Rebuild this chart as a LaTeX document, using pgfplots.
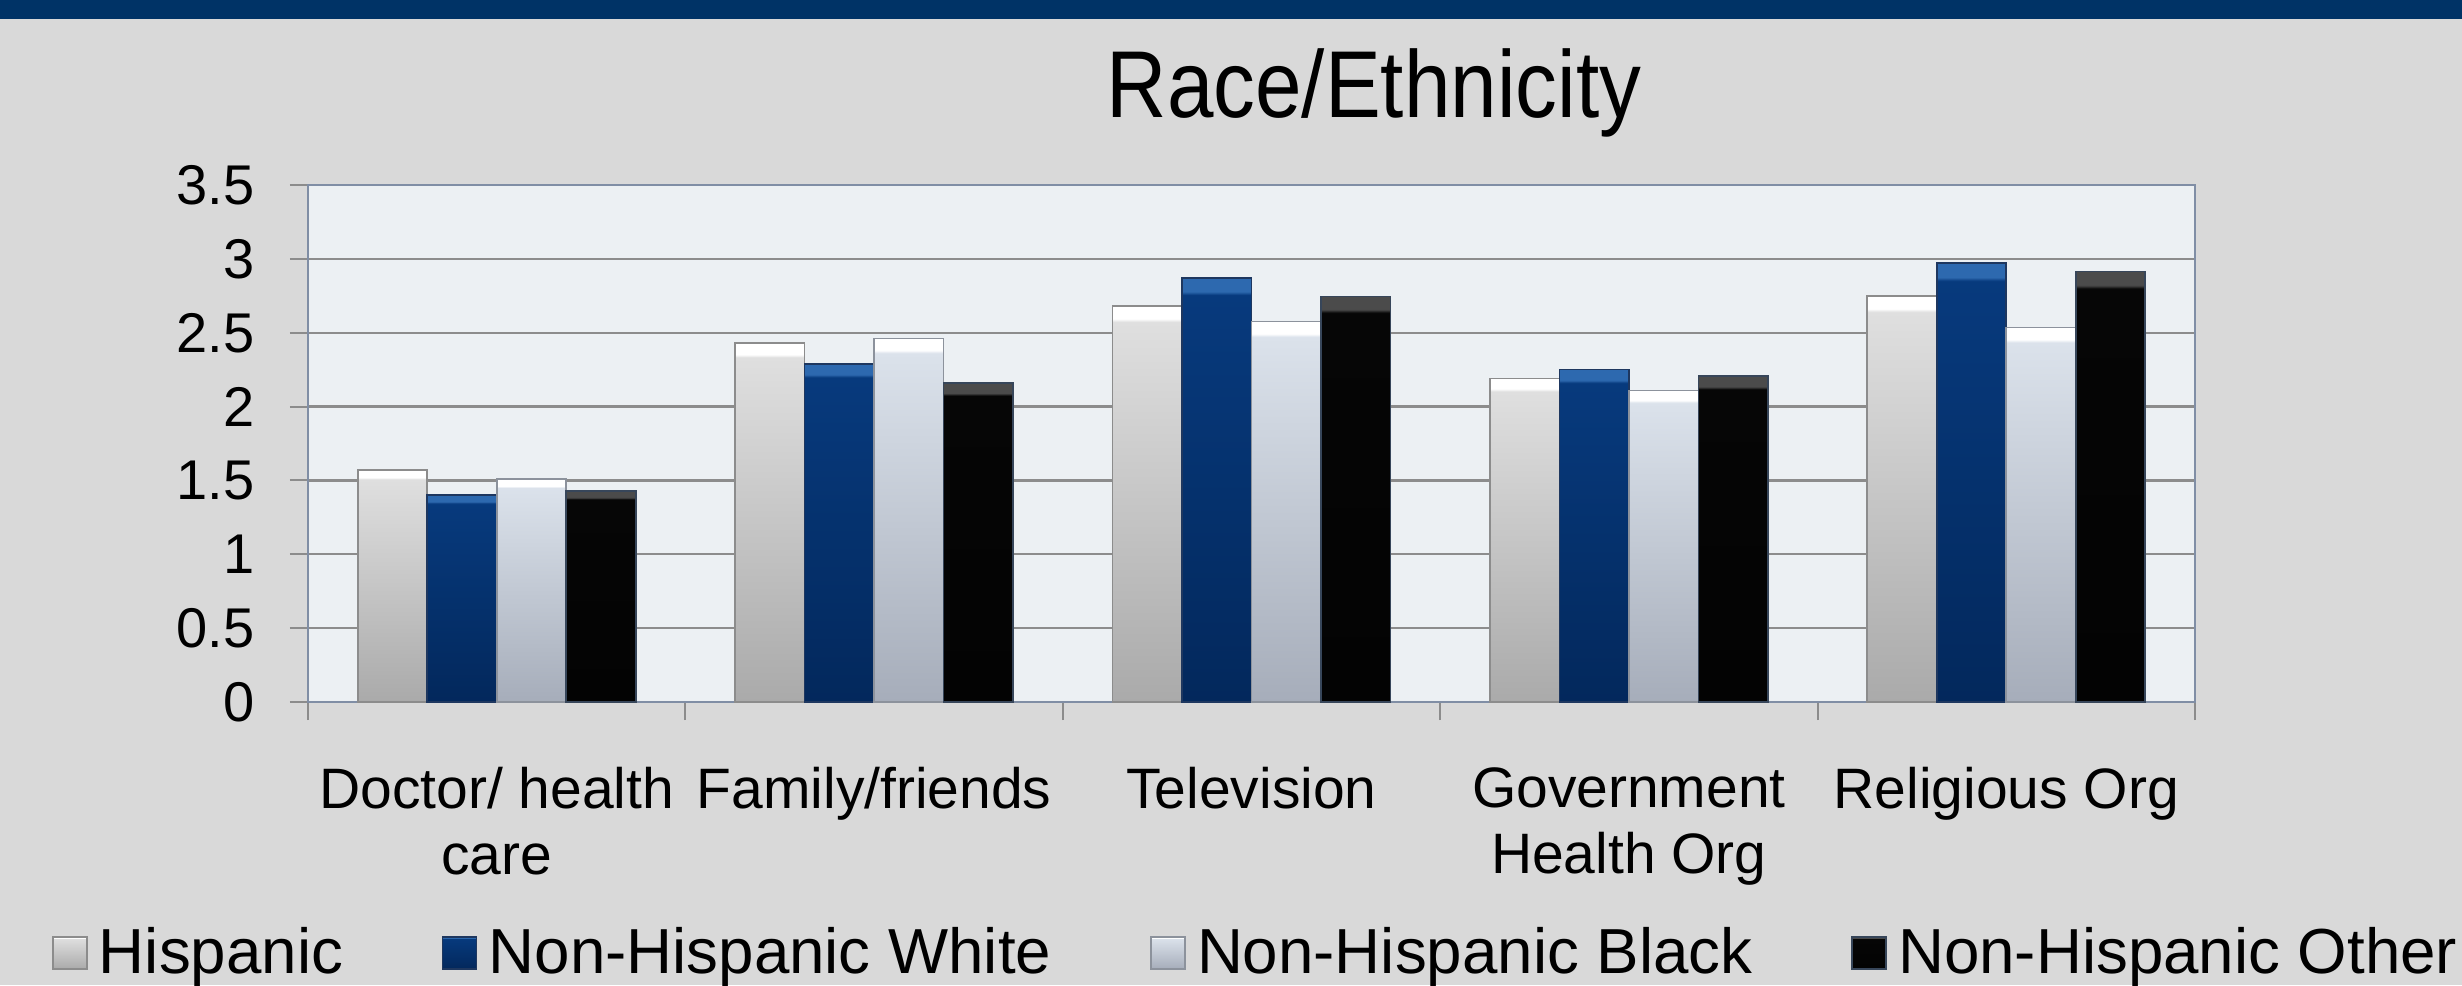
\documentclass[border=0pt]{standalone}
\usepackage{pgfplots}
\pgfplotsset{compat=1.18}
\usepackage{fontspec}
\setmainfont{Liberation Sans}
\usepackage{graphicx}

\definecolor{bg}{RGB}{217,217,217}
\definecolor{navy}{RGB}{0,51,102}
\definecolor{plotbg}{RGB}{236,240,243}
\definecolor{gridc}{RGB}{140,140,140}
\definecolor{framec}{RGB}{128,142,165}

\definecolor{hispB}{RGB}{170,170,170}
\definecolor{hispT}{RGB}{223,223,223}
\definecolor{hispHi}{RGB}{255,255,255}
\definecolor{hispE}{RGB}{140,140,140}

\definecolor{navB}{RGB}{3,40,92}
\definecolor{navT}{RGB}{7,58,125}
\definecolor{navHi}{RGB}{45,105,175}
\definecolor{navE}{RGB}{30,55,95}

\definecolor{blkB}{RGB}{166,173,186}
\definecolor{blkT}{RGB}{219,226,235}
\definecolor{blkHi}{RGB}{255,255,255}
\definecolor{blkE}{RGB}{140,146,156}

\definecolor{othB}{RGB}{3,3,3}
\definecolor{othT}{RGB}{6,6,6}
\definecolor{othHi}{RGB}{75,75,75}
\definecolor{othE}{RGB}{55,70,90}

\pgfdeclareverticalshading{shHisp}{100bp}{color(0bp)=(hispB); color(25bp)=(hispB); color(73bp)=(hispT); color(73.4bp)=(hispHi); color(75bp)=(hispHi); color(100bp)=(hispHi)}
\pgfdeclareverticalshading{shNav}{100bp}{color(0bp)=(navB); color(25bp)=(navB); color(73bp)=(navT); color(73.4bp)=(navHi); color(75bp)=(navHi); color(100bp)=(navHi)}
\pgfdeclareverticalshading{shBlk}{100bp}{color(0bp)=(blkB); color(25bp)=(blkB); color(73bp)=(blkT); color(73.4bp)=(blkHi); color(75bp)=(blkHi); color(100bp)=(blkHi)}
\pgfdeclareverticalshading{shOth}{100bp}{color(0bp)=(othB); color(25bp)=(othB); color(73bp)=(othT); color(73.4bp)=(othHi); color(75bp)=(othHi); color(100bp)=(othHi)}

\pgfplotsset{
  barbase/.style={ybar, bar width=20.85pt, line width=0.5pt, shade, forget plot},
  hisp/.style={barbase, bar shift=-31.275pt, draw=hispE, shading=shHisp},
  nhw/.style={barbase, bar shift=-10.425pt, draw=navE, shading=shNav},
  nhb/.style={barbase, bar shift=10.425pt, draw=blkE, shading=shBlk},
  nho/.style={barbase, bar shift=31.275pt, draw=othE, shading=shOth},
}

\begin{document}
\begin{tikzpicture}
\useasboundingbox (0,0) rectangle (738.6pt,295.5pt);
\fill[bg] (0,0) rectangle (738.6pt,295.5pt);
\fill[navy] (0,289.8pt) rectangle (738.6pt,295.5pt);
\node[anchor=base, inner sep=0pt, font=\fontsize{28.5}{30}\selectfont] at (412.2pt,260.4pt) {\scalebox{0.88}[1]{Race/Ethnicity}};
\begin{axis}[
  at={(92.4pt,84.9pt)}, anchor=south west,
  scale only axis, width=566.1pt, height=155.1pt,
  xmin=-0.5, xmax=4.5, ymin=0, ymax=3.5,
  xtick={0,1,2,3,4},
  xticklabels={{Doctor/ health\\care},{Family/friends},{Television},{Government\\Health Org},{Religious Org}},
  minor xtick={-0.5,0.5,1.5,2.5,3.5,4.5},
  ytick={0,0.5,1,1.5,2,2.5,3,3.5},
  yticklabels={0,0.5,1,1.5,2,2.5,3,3.5},
  xtick pos=bottom, ytick pos=left,
  tick align=outside, major tick length=5.4pt, minor tick length=5.4pt,
  major x tick style={draw=none},
  minor x tick style={draw=gridc, line width=0.6pt},
  ytick style={draw=gridc, line width=0.6pt},
  ymajorgrids, grid style={draw=gridc, line width=0.7pt},
  axis background/.style={fill=plotbg},
  axis line style={draw=framec, line width=0.8pt},
  xticklabel style={font=\fontsize{17.1}{19.8}\selectfont, align=center, anchor=north, inner sep=0pt, yshift=-14.1pt},
  yticklabel style={font=\fontsize{16.8}{19.8}\selectfont, anchor=east, inner sep=0pt, xshift=-10.4pt},
  legend style={at={(axis description cs:-0.1357,-0.4855)}, anchor=west, draw=none, fill=none,
    inner sep=0pt, outer sep=0pt, font=\fontsize{19.1}{22}\selectfont,
    /tikz/every odd column/.append style={column sep=3.4pt},
    /tikz/every even column/.append style={column sep=29.6pt},
    nodes={inner sep=0pt}},
  legend columns=4, legend cell align=left,
  legend image code/.code={\draw[#1] (0pt,-4.8pt) rectangle (10.2pt,4.8pt);},
]
% Hispanic
\addplot[hisp] coordinates {(0,1.57)};
\addplot[hisp] coordinates {(1,2.43)};
\addplot[hisp] coordinates {(2,2.68)};
\addplot[hisp] coordinates {(3,2.19)};
\addplot[hisp] coordinates {(4,2.75)};
% Non-Hispanic White
\addplot[nhw] coordinates {(0,1.40)};
\addplot[nhw] coordinates {(1,2.29)};
\addplot[nhw] coordinates {(2,2.87)};
\addplot[nhw] coordinates {(3,2.25)};
\addplot[nhw] coordinates {(4,2.97)};
% Non-Hispanic Black
\addplot[nhb] coordinates {(0,1.51)};
\addplot[nhb] coordinates {(1,2.46)};
\addplot[nhb] coordinates {(2,2.575)};
\addplot[nhb] coordinates {(3,2.11)};
\addplot[nhb] coordinates {(4,2.535)};
% Non-Hispanic Other
\addplot[nho] coordinates {(0,1.43)};
\addplot[nho] coordinates {(1,2.16)};
\addplot[nho] coordinates {(2,2.745)};
\addplot[nho] coordinates {(3,2.205)};
\addplot[nho] coordinates {(4,2.915)};
\addlegendimage{draw=hispE, line width=0.5pt, shade, shading=shHisp}
\addlegendimage{draw=navE, line width=0.5pt, shade, shading=shNav}
\addlegendimage{draw=blkE, line width=0.5pt, shade, shading=shBlk}
\addlegendimage{draw=othE, line width=0.5pt, shade, shading=shOth}
\legend{Hispanic, Non-Hispanic White, Non-Hispanic Black, Non-Hispanic Other}
\end{axis}
\end{tikzpicture}
\end{document}
